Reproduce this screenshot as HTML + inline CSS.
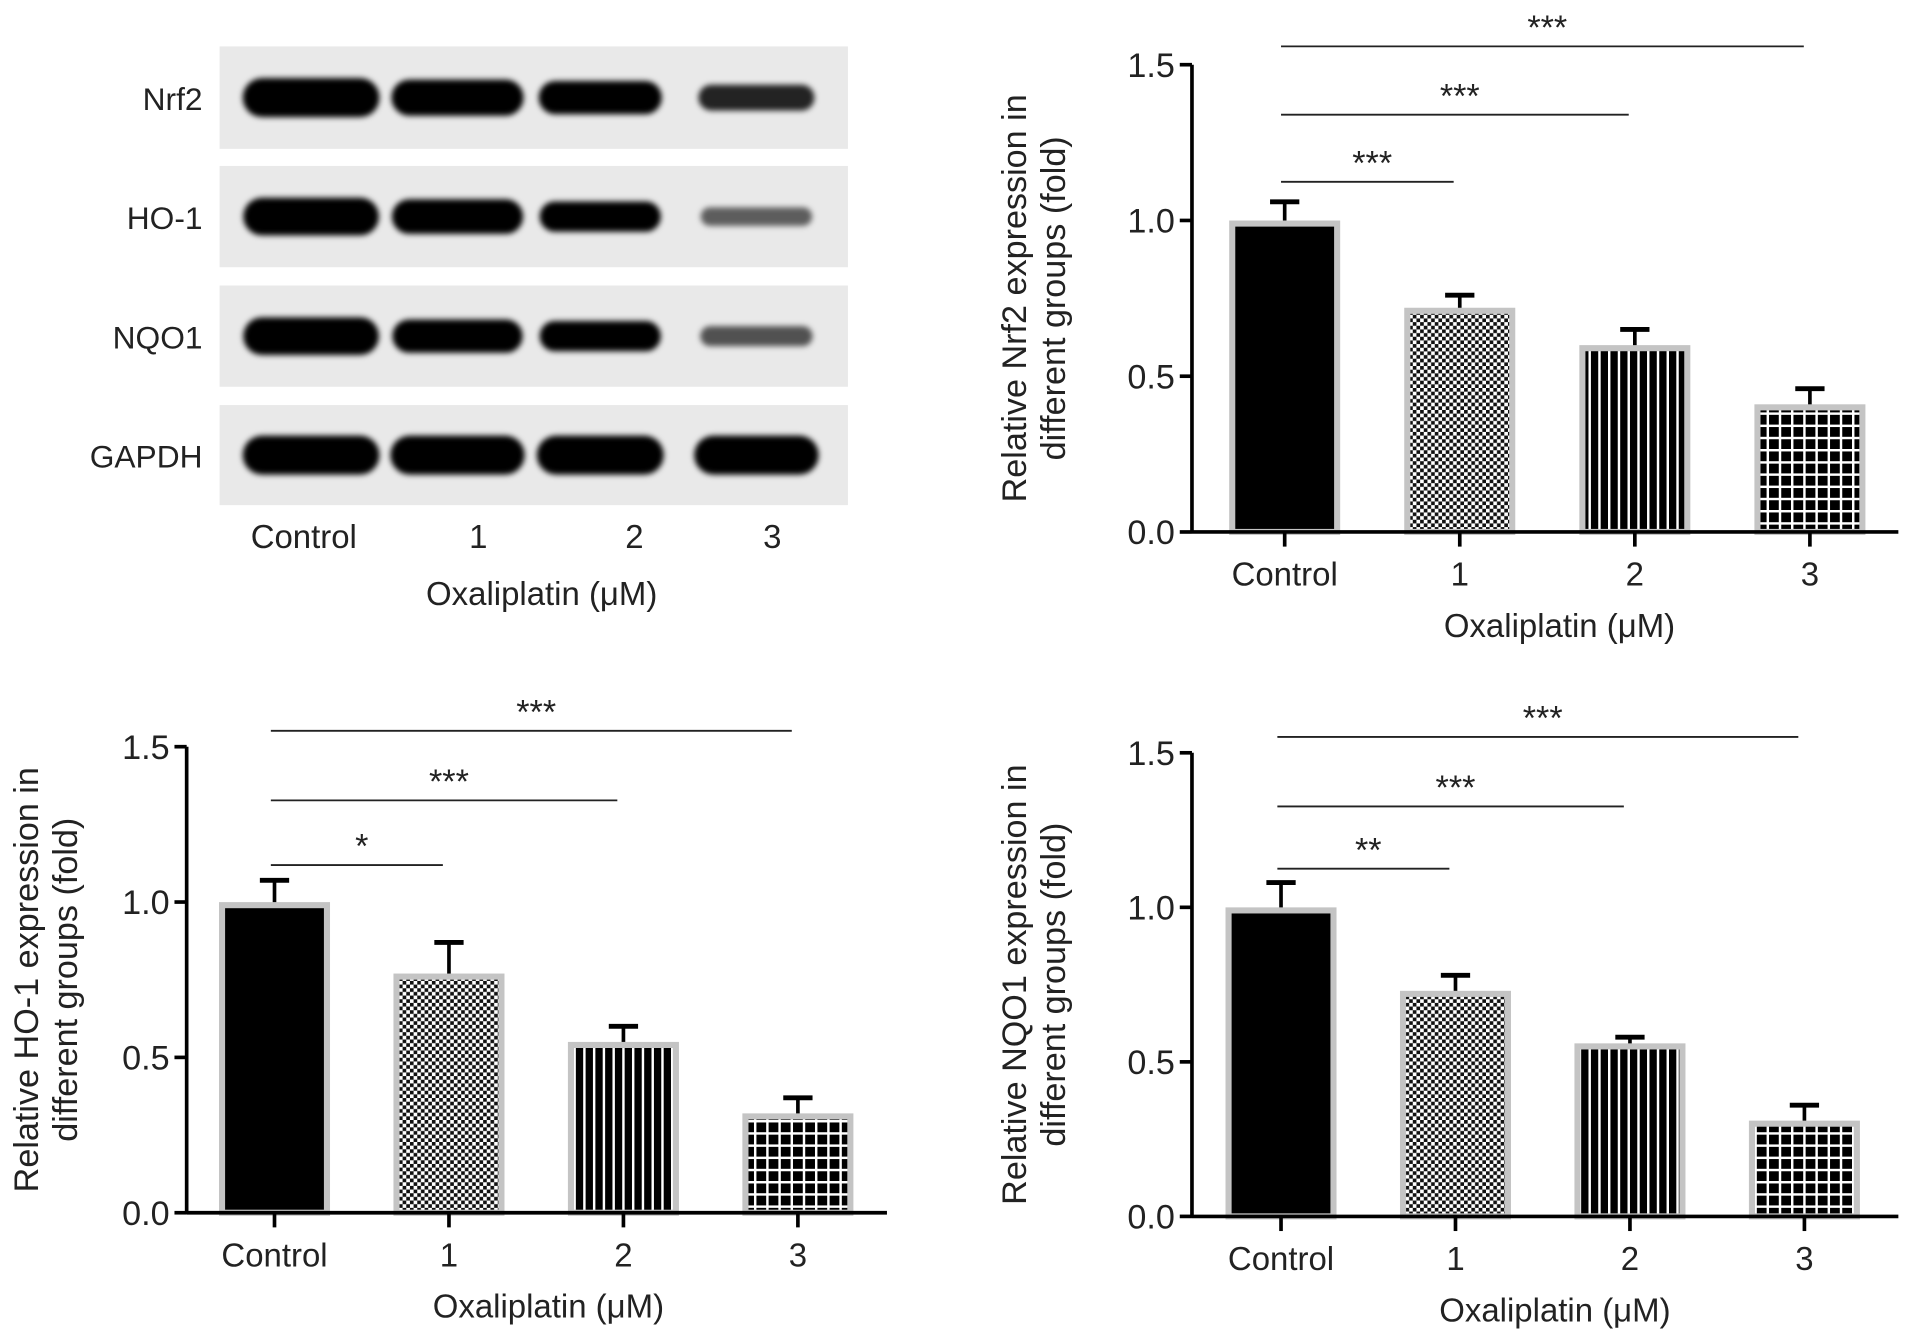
<!DOCTYPE html>
<html><head><meta charset="utf-8"><style>html,body{margin:0;padding:0;background:#fff}svg{display:block}text{font-family:"Liberation Sans",sans-serif;fill:#222}</style></head>
<body>
<svg id="fig" width="1913" height="1336" viewBox="0 0 1568 1095" xmlns="http://www.w3.org/2000/svg">
<defs>
<filter id="blur" x="-20%" y="-50%" width="140%" height="200%"><feGaussianBlur stdDeviation="2.5"/></filter>
<pattern id="pChk" width="6" height="6" patternUnits="userSpaceOnUse"><rect width="6" height="6" fill="#fff"/><rect width="3" height="3" fill="#111"/><rect x="3" y="3" width="3" height="3" fill="#111"/></pattern>
<pattern id="pVert" width="8" height="8" patternUnits="userSpaceOnUse"><rect width="8" height="8" fill="#000"/><rect x="6" width="2" height="8" fill="#fff"/></pattern>
<pattern id="pGrid" width="10" height="10" patternUnits="userSpaceOnUse"><rect width="10" height="10" fill="#000"/><rect x="8" width="2" height="10" fill="#fff"/><rect y="8" width="10" height="2" fill="#fff"/></pattern>
</defs>
<g id="blot"></g>
<g id="c1"></g>
<g id="c2"></g>
<g id="c3"></g>
</svg>
<script>
const categories = ["Control","1","2","3"];
const nrf2Values = [0.99,0.71,0.59,0.40];
const nrf2Errors = [0.07,0.05,0.06,0.06];
const ho1Values = [0.99,0.76,0.54,0.31];
const ho1Errors = [0.08,0.11,0.06,0.06];
const nqo1Values = [0.99,0.72,0.55,0.30];
const nqo1Errors = [0.09,0.06,0.03,0.06];
const yTicks = [0,0.5,1.0,1.5];
const yTickLabels = ["0.0","0.5","1.0","1.5"];
const nrf2Sig = ["***","***","***"];
const ho1Sig = ["*","***","***"];
const nqo1Sig = ["**","***","***"];
const blotLabels = ["Nrf2","HO-1","NQO1","GAPDH"];
const blotIntensity = [[1,0.9,0.8,0.55],[0.95,0.85,0.7,0.3],[0.95,0.8,0.7,0.35],[1,1,1,1]];

const NS="http://www.w3.org/2000/svg";
function mk(parent,tag,attrs,txt){const e=document.createElementNS(NS,tag);for(const k in attrs)e.setAttribute(k,attrs[k]);if(txt!=null)e.textContent=txt;parent.appendChild(e);return e;}
const fills=["#000","url(#pChk)","url(#pVert)","url(#pGrid)"];

function chart(gid,o,values,errors,sig,ylab){
  const g=document.getElementById(gid);
  const y=v=>o.y0-(v/1.5)*(o.y0-o.y15);
  const x=i=>o.cx0+i*o.step;
  const bw=86;
  values.forEach((v,i)=>{
    const e=mk(g,'line',{x1:x(i),x2:x(i),y1:y(v),y2:y(v+errors[i]),stroke:'#000','stroke-width':3});
    
    
    const c=mk(g,'line',{x1:x(i)-12,x2:x(i)+12,y1:y(v+errors[i]),y2:y(v+errors[i]),stroke:'#000','stroke-width':4});
    
    
    const r=mk(g,'rect',{x:x(i)-bw/2,y:y(v),width:bw,height:o.y0-y(v),fill:fills[i],stroke:'#c4c4c4','stroke-width':5});
    
    
  });
  mk(g,'line',{x1:o.ax,x2:o.ax,y1:y(1.5),y2:o.y0+1,stroke:'#000','stroke-width':3});
  mk(g,'line',{x1:o.ax,x2:o.xend,y1:o.y0,y2:o.y0,stroke:'#000','stroke-width':3});
  yTicks.forEach((t,k)=>{
    mk(g,'line',{x1:o.ax-10,x2:o.ax,y1:y(t),y2:y(t),stroke:'#000','stroke-width':3});
    const tl=mk(g,'text',{x:o.ax-14,y:y(t)+10,'text-anchor':'end','font-size':28},yTickLabels[k]);
    
    
  });
  categories.forEach((c,i)=>{
    mk(g,'line',{x1:x(i),x2:x(i),y1:o.y0,y2:o.y0+12,stroke:'#000','stroke-width':3});
    const tl=mk(g,'text',{x:x(i),y:o.y0+44,'text-anchor':'middle','font-size':27},c);
    
    
  });
  const xt=mk(g,'text',{x:(x(0)+x(3))/2+10,y:o.y0+86,'text-anchor':'middle','font-size':27},'Oxaliplatin (\u03bcM)');
  
  
  const cy=(o.y0+y(1.5))/2;
  const yt=mk(g,'text',{transform:`translate(${o.ax-o.ytOff},${cy}) rotate(-90)`,'text-anchor':'middle','font-size':28});
  
  
  mk(yt,'tspan',{x:0,y:0},ylab[0]);mk(yt,'tspan',{x:0,y:32},ylab[1]);
  sig.forEach((s,k)=>{
    const ly=o.sigY[k];
    const l=mk(g,'line',{x1:x(0)-3,x2:x(k+1)-5,y1:ly,y2:ly,stroke:'#222','stroke-width':1.5});
    
    
    const st=mk(g,'text',{x:(x(0)+x(k+1))/2,y:ly-6,'text-anchor':'middle','font-size':28,fill:'#444'},s);
    
    
  });
}
chart('c1',{ax:977,y0:436,y15:53,cx0:1053,step:143.5,xend:1556,ytOff:136,sigY:[149,94,38]},nrf2Values,nrf2Errors,nrf2Sig,["Relative Nrf2 expression in","different groups (fold)"]);
chart('c2',{ax:153,y0:994,y15:612,cx0:225,step:143,xend:727,ytOff:122,sigY:[709,656,599]},ho1Values,ho1Errors,ho1Sig,["Relative HO-1 expression in","different groups (fold)"]);
chart('c3',{ax:977,y0:997,y15:617,cx0:1050,step:143,xend:1556,ytOff:136,sigY:[712,661,604]},nqo1Values,nqo1Errors,nqo1Sig,["Relative NQO1 expression in","different groups (fold)"]);

(function(){
  const g=document.getElementById('blot');
  const tops=[38,136,234,332],h=[84,83,83,82];
  const lanes=[255,375,492,620],widths=[112,110,104,102];
  blotLabels.forEach((lab,r)=>{
    const p=mk(g,'rect',{x:180,y:tops[r],width:515,height:h[r],fill:'#e9e9e9'});
    
    
    const t=mk(g,'text',{x:166,y:tops[r]+h[r]/2+10,'text-anchor':'end','font-size':26},lab);
    
    
    blotIntensity[r].forEach((v,i)=>{
      const bh=8+v*24, bwid=widths[i]*(0.85+0.15*v);
      const b=mk(g,'rect',{x:lanes[i]-bwid/2,y:tops[r]+h[r]/2-bh/2,width:bwid,height:bh,rx:bh/2,fill:'#000','fill-opacity':Math.min(1,0.3+v),filter:'url(#blur)'});
      
      
    });
  });
  ["Control","1","2","3"].forEach((c,i)=>{
    const t=mk(g,'text',{x:[249,392,520,633][i],y:449,'text-anchor':'middle','font-size':27},c);
    
    
  });
  const t=mk(g,'text',{x:444,y:496,'text-anchor':'middle','font-size':27},'Oxaliplatin (\u03bcM)');
  
  
})();
</script>
</body></html>
